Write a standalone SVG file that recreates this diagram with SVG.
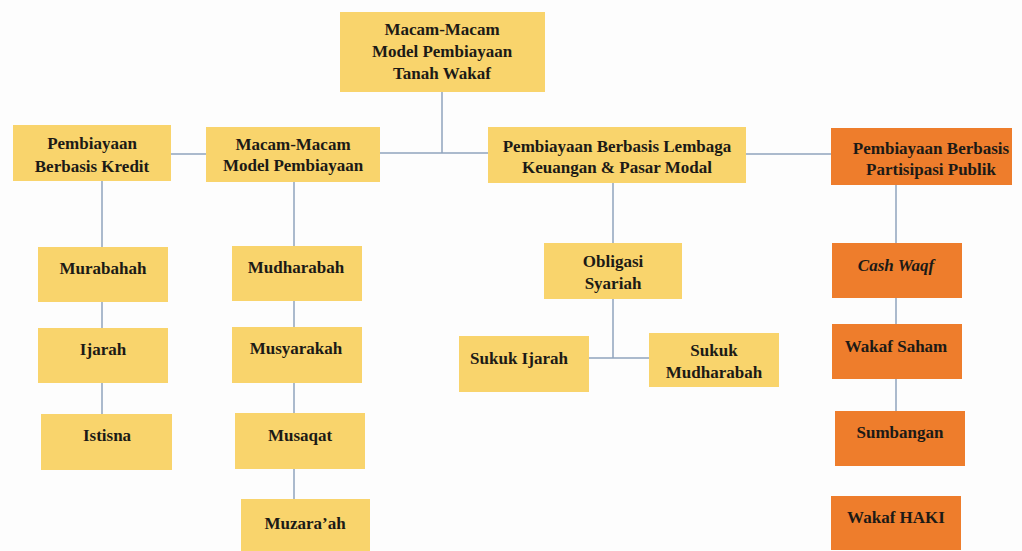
<svg xmlns="http://www.w3.org/2000/svg" width="1022" height="551" viewBox="0 0 1022 551">
<style>
.y{fill:#F9D46C}
.o{fill:#EE7D2C}
text{font-family:"Liberation Serif","Times New Roman",serif;font-weight:bold;font-size:17px;fill:#1c1a16;text-anchor:middle}
.c line{stroke:#8FA3BC;stroke-width:1.5}
</style>
<rect width="1022" height="551" fill="#FDFDFD"/>
<g class="c" id="connectors">
<line x1="442" y1="92" x2="442" y2="153"/>
<line x1="380" y1="153" x2="488" y2="153"/>
<line x1="171" y1="154" x2="206" y2="154"/>
<line x1="746" y1="154" x2="831" y2="154"/>
<line x1="102" y1="181" x2="102" y2="247"/>
<line x1="102" y1="302" x2="102" y2="328"/>
<line x1="102" y1="383" x2="102" y2="414"/>
<line x1="294" y1="182" x2="294" y2="246"/>
<line x1="294" y1="301" x2="294" y2="327"/>
<line x1="294" y1="383" x2="294" y2="413"/>
<line x1="294" y1="469" x2="294" y2="499"/>
<line x1="613" y1="183" x2="613" y2="243"/>
<line x1="613" y1="299" x2="613" y2="358"/>
<line x1="589" y1="358" x2="649" y2="358"/>
<line x1="896" y1="185" x2="896" y2="243"/>
<line x1="896" y1="298" x2="896" y2="324"/>
<line x1="896" y1="379" x2="896" y2="411"/>
</g>
<g id="root"><rect class="y" x="340" y="12" width="205" height="80"/>
<text x="442" y="35">Macam-Macam</text><text x="442" y="57">Model Pembiayaan</text><text x="442" y="79">Tanah Wakaf</text></g>
<g id="kredit"><rect class="y" x="13" y="125" width="158" height="56"/>
<text x="92" y="149">Pembiayaan</text><text x="92" y="172">Berbasis Kredit</text></g>
<g id="model"><rect class="y" x="206" y="127" width="174" height="55"/>
<text x="293" y="150">Macam-Macam</text><text x="293" y="171">Model Pembiayaan</text></g>
<g id="lembaga"><rect class="y" x="488" y="127" width="258" height="56"/>
<text x="617" y="152">Pembiayaan Berbasis Lembaga</text><text x="617" y="173">Keuangan &amp; Pasar Modal</text></g>
<g id="publik"><rect class="o" x="831" y="128" width="181" height="57"/>
<text x="931" y="154">Pembiayaan Berbasis</text><text x="931" y="175">Partisipasi Publik</text></g>
<g id="murabahah"><rect class="y" x="38" y="247" width="130" height="55"/><text x="103" y="274">Murabahah</text></g>
<g id="ijarah"><rect class="y" x="38" y="328" width="130" height="55"/><text x="103" y="355">Ijarah</text></g>
<g id="istisna"><rect class="y" x="41" y="414" width="131" height="56"/><text x="107" y="441">Istisna</text></g>
<g id="mudharabah"><rect class="y" x="232" y="246" width="130" height="55"/><text x="296" y="273">Mudharabah</text></g>
<g id="musyarakah"><rect class="y" x="232" y="327" width="130" height="56"/><text x="296" y="354">Musyarakah</text></g>
<g id="musaqat"><rect class="y" x="235" y="413" width="130" height="56"/><text x="300" y="441">Musaqat</text></g>
<g id="muzaraah"><rect class="y" x="241" y="499" width="129" height="52"/><text x="305" y="529">Muzara’ah</text></g>
<g id="obligasi"><rect class="y" x="544" y="243" width="138" height="56"/>
<text x="613" y="267">Obligasi</text><text x="613" y="289">Syariah</text></g>
<g id="sukuk-ijarah"><rect class="y" x="459" y="336" width="130" height="56"/><text x="519" y="364">Sukuk Ijarah</text></g>
<g id="sukuk-mudharabah"><rect class="y" x="649" y="333" width="130" height="54"/>
<text x="714" y="356">Sukuk</text><text x="714" y="378">Mudharabah</text></g>
<g id="cash-waqf"><rect class="o" x="832" y="243" width="130" height="55"/><text x="896" y="271" font-style="italic">Cash Waqf</text></g>
<g id="wakaf-saham"><rect class="o" x="832" y="324" width="130" height="55"/><text x="896" y="352">Wakaf Saham</text></g>
<g id="sumbangan"><rect class="o" x="835" y="411" width="130" height="55"/><text x="900" y="438">Sumbangan</text></g>
<g id="wakaf-haki"><rect class="o" x="831" y="496" width="130" height="54"/><text x="896" y="523">Wakaf HAKI</text></g>
</svg>
